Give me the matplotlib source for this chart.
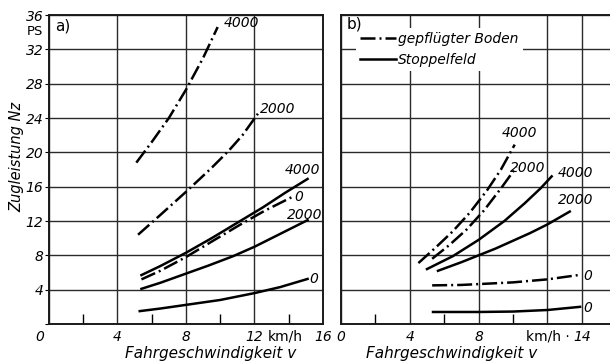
import matplotlib.pyplot as plt

plt.rcParams['font.family'] = ['DejaVu Sans']
plt.rcParams['font.style'] = 'italic'

# speed v in km/h, tractive power Nz in PS, curves labelled by load
# a) ploughed soil (dash-dot)
a_plough_4000_v = [5.1, 6.0, 7.0, 8.0, 9.0, 9.85]
a_plough_4000_n = [18.8, 21.2, 24.0, 27.3, 31.0, 34.6]
a_plough_2000_v = [5.2, 6.5, 8.0, 9.5, 10.5, 11.3, 12.2]
a_plough_2000_n = [10.4, 12.7, 15.4, 18.2, 20.2, 22.0, 24.5]
a_plough_0_v = [5.4, 6.5, 8.0, 9.5, 11.1, 12.6, 14.2]
a_plough_0_n = [5.2, 6.2, 7.8, 9.6, 11.5, 13.2, 14.8]
# a) stubble field (solid)
a_stubble_4000_v = [5.4, 6.5, 8.0, 9.5, 11.0, 12.5, 13.8, 15.1]
a_stubble_4000_n = [5.7, 6.75, 8.3, 10.0, 11.8, 13.6, 15.3, 16.9]
a_stubble_2000_v = [5.4, 6.5, 7.9, 9.3, 10.75, 12.0, 13.5, 15.1]
a_stubble_2000_n = [4.1, 4.8, 5.8, 6.8, 7.9, 9.0, 10.5, 12.1]
a_stubble_0_v = [5.3, 6.5, 7.9, 10.0, 12.0, 13.5, 15.1]
a_stubble_0_n = [1.5, 1.8, 2.2, 2.8, 3.6, 4.3, 5.25]

# b) ploughed soil (dash-dot)
b_plough_4000_v = [4.5, 5.5, 6.5, 7.5, 8.5, 9.3, 10.1]
b_plough_4000_n = [7.1, 8.9, 10.8, 13.0, 15.6, 18.0, 20.9]
b_plough_2000_v = [5.3, 6.3, 7.3, 8.3, 9.3, 10.2]
b_plough_2000_n = [7.6, 9.2, 11.0, 13.2, 15.8, 18.3]
b_plough_0_v = [5.3, 7.0, 8.0, 10.0, 12.0, 13.8]
b_plough_0_n = [4.5, 4.55, 4.65, 4.85, 5.2, 5.7]
# b) stubble field (solid)
b_stubble_4000_v = [5.0, 6.5, 8.0, 9.5, 10.7, 11.6, 12.25]
b_stubble_4000_n = [6.4, 7.9, 9.8, 12.0, 14.1, 15.8, 17.2]
b_stubble_2000_v = [5.64, 7.0, 8.0, 9.0, 10.0, 11.0, 12.0, 13.3]
b_stubble_2000_n = [6.2, 7.2, 8.0, 8.8, 9.7, 10.6, 11.6, 13.1]
b_stubble_0_v = [5.35, 8.0, 10.0, 12.0, 13.9]
b_stubble_0_n = [1.4, 1.4, 1.45, 1.63, 2.0]

y_ticks = list(range(0, 37, 4))
y_labels = [''] + [str(t) for t in y_ticks[1:]]

DASHDOT = (6, 1.6, 0.8, 1.6)
LW = 1.8

fig = plt.figure(figsize=(6.1, 3.61), dpi=100)
ax_a = fig.add_axes([0.0803, 0.1025, 0.4492, 0.8559])
ax_b = fig.add_axes([0.559, 0.1025, 0.441, 0.8559])

for ax in (ax_a, ax_b):
    ax.set_ylim(0, 36)
    ax.set_yticks(y_ticks)
    ax.grid(True, color='#2a2a2a', lw=1.0)
    ax.set_axisbelow(True)
    for s in ax.spines.values():
        s.set_linewidth(1.4)
        s.set_color('#1a1a1a')
    ax.tick_params(axis='x', which='major', length=0, pad=4, labelsize=10)
    ax.tick_params(axis='x', which='minor', direction='in', length=7.5, width=1.0)

ax_a.set_xlim(0, 16)
ax_a.set_xticks([0, 4, 8, 12, 16])
ax_a.set_xticklabels(['', '4', '8', '12', '16'])
ax_a.set_xticks([2, 6, 10, 14], minor=True)
ax_a.set_yticklabels(y_labels)
ax_a.tick_params(axis='y', length=3, pad=1, labelsize=10)

ax_b.set_xlim(0, 15.64)
ax_b.set_xticks([0, 4, 8, 12, 14])
ax_b.set_xticklabels(['0', '4', '8', '', '14'])
ax_b.set_xticks([2, 6, 10], minor=True)
ax_b.set_yticklabels([])
ax_b.tick_params(axis='y', length=0)
ax_b.spines['right'].set_visible(False)

# curves a)
ax_a.plot(a_plough_4000_v, a_plough_4000_n, color='k', lw=LW, dashes=DASHDOT)
ax_a.plot(a_plough_2000_v, a_plough_2000_n, color='k', lw=LW, dashes=DASHDOT)
ax_a.plot(a_plough_0_v, a_plough_0_n, color='k', lw=LW, dashes=DASHDOT)
ax_a.plot(a_stubble_4000_v, a_stubble_4000_n, color='k', lw=LW)
ax_a.plot(a_stubble_2000_v, a_stubble_2000_n, color='k', lw=LW)
ax_a.plot(a_stubble_0_v, a_stubble_0_n, color='k', lw=LW)

# curves b)
l1, = ax_b.plot(b_plough_4000_v, b_plough_4000_n, color='k', lw=LW, dashes=DASHDOT)
ax_b.plot(b_plough_2000_v, b_plough_2000_n, color='k', lw=LW, dashes=DASHDOT)
ax_b.plot(b_plough_0_v, b_plough_0_n, color='k', lw=LW, dashes=DASHDOT)
l2, = ax_b.plot(b_stubble_4000_v, b_stubble_4000_n, color='k', lw=LW)
ax_b.plot(b_stubble_2000_v, b_stubble_2000_n, color='k', lw=LW)
ax_b.plot(b_stubble_0_v, b_stubble_0_n, color='k', lw=LW)

# curve labels
lab = dict(fontsize=10, ha='left', va='center')
ax_a.text(10.2, 35.1, '4000', **lab)
ax_a.text(12.3, 25.0, '2000', **lab)
ax_a.text(13.76, 18.0, '4000', **lab)
ax_a.text(14.35, 14.8, '0', **lab)
ax_a.text(13.9, 12.7, '2000', **lab)
ax_a.text(15.2, 5.25, '0', **lab)

ax_b.text(9.36, 22.3, '4000', **lab)
ax_b.text(9.8, 18.2, '2000', **lab)
ax_b.text(12.6, 17.6, '4000', **lab)
ax_b.text(12.6, 14.5, '2000', **lab)
ax_b.text(14.07, 5.6, '0', **lab)
ax_b.text(14.07, 1.9, '0', **lab)

# panel tags
ax_a.text(0.35, 34.75, 'a)', fontsize=11, style='normal', ha='left', va='center')
ax_b.text(0.35, 34.9, 'b)', fontsize=11, style='normal', ha='left', va='center', zorder=7)

# extra axis texts
xt_a = ax_a.get_xaxis_transform()
ax_a.text(-0.52, -0.019, '0', transform=xt_a, fontsize=10, ha='center', va='top')
ax_a.text(12.8, -0.019, 'km/h', transform=xt_a, fontsize=10, style='normal', ha='left', va='top')
xt_b = ax_b.get_xaxis_transform()
ax_b.text(13.3, -0.019, 'km/h ·', transform=xt_b, fontsize=10, style='normal', ha='right', va='top')
ax_a.text(-0.051, 34.05, 'PS', transform=ax_a.get_yaxis_transform(), fontsize=9.5,
          style='normal', ha='center', va='center')

ax_a.set_xlabel('Fahrgeschwindigkeit v', fontsize=11)
ax_a.xaxis.set_label_coords(0.59, -0.07)
ax_b.set_xlabel('Fahrgeschwindigkeit v', fontsize=11)
ax_b.xaxis.set_label_coords(0.413, -0.07)
fig.text(0.028, 0.565, 'Zugleistung Nz', rotation=90, fontsize=10.5, ha='center', va='center')

leg = ax_b.legend([l1, l2], ['gepflügter Boden', 'Stoppelfeld'], loc='upper left',
                  bbox_to_anchor=(0.03, 0.982), fontsize=10, handlelength=2.6,
                  handletextpad=0.15, labelspacing=0.55, borderpad=0.3,
                  frameon=True, fancybox=False, framealpha=1)
leg.get_frame().set_edgecolor('white')
leg.get_frame().set_linewidth(0)

fig.savefig('out.png', dpi=100)
